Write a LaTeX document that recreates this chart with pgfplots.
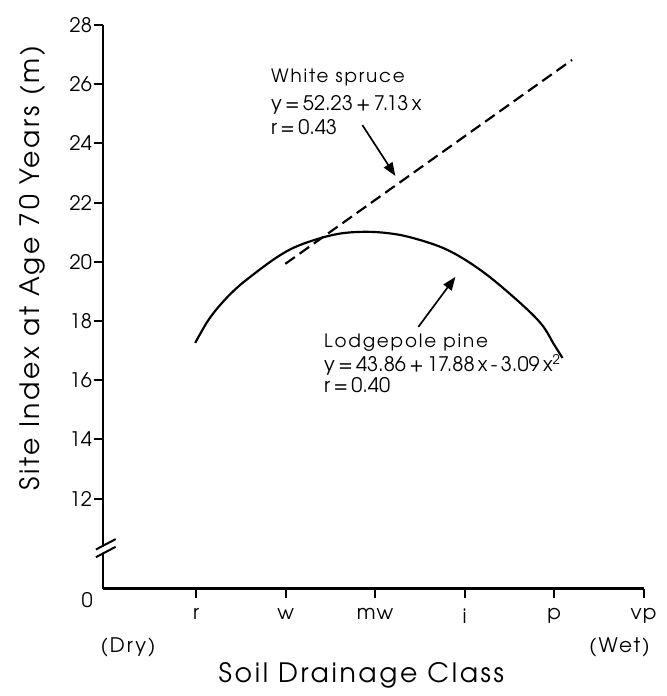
\documentclass[border=0pt]{standalone}
\usepackage{fontspec}
\setmainfont{TeX Gyre Adventor}
\usepackage{pgfplots}
\pgfplotsset{compat=1.18}
\usetikzlibrary{arrows.meta}

% lodgepole pine curve (x: 1=r ... 6=vp)
\pgfplotstableread{
x      y
0.989  17.26
1.130  18.00
1.268  18.54
1.430  19.05
1.604  19.49
1.906  20.16
2.163  20.57
2.532  20.91
2.834  21.01
3.136  20.97
3.427  20.80
3.808  20.40
4.177  19.72
4.546  18.81
4.848  17.93
5.000  17.20
5.094  16.75
}\lodgepole

\pgfplotstableread{
x      y
1.996  19.93
5.200  26.82
}\spruce

\newcommand{\fs}[1]{\fontsize{#1}{#1}\selectfont}
\newcommand{\ls}[1]{\addfontfeatures{LetterSpace=#1}}

\begin{document}
\begin{tikzpicture}
\begin{axis}[
  width=324pt, height=337.8pt, scale only axis,
  xmin=-0.040, xmax=6, ymin=8.96, ymax=28,
  axis lines=left,
  axis line style={line width=1.5pt, -},
  xtick={1,2,3,4,5,6},
  xticklabels={r,w,mw,i,p,vp},
  ytick={12,14,16,18,20,22,24,26,28},
  yticklabels={12,14,16,18,20,22,24,26,28},
  tick align=outside,
  major tick length=5.5pt,
  tick style={line width=1.2pt, black},
  yticklabel style={font=\fs{12}, inner sep=1pt},
  xticklabel style={font=\fs{12}\ls{6}, yshift=-3pt},
  clip=false,
]
% fixed bounding box with the reference's proportions
\path (axis cs:-1.192,5.33) rectangle (axis cs:6.257,28.845);

\addplot[black, line width=1.3pt, smooth, tension=0.6] table[x=x, y=y] {\lodgepole};
\addplot[black, line width=1.3pt, dash pattern=on 7pt off 3.5pt] table[x=x, y=y] {\spruce};

% axis break
\fill[white] (axis cs:-0.12,10.05) -- (axis cs:0.10,10.40) -- (axis cs:0.10,10.60) -- (axis cs:-0.12,10.25) -- cycle;
\draw[line width=1.2pt] (axis cs:-0.12,10.02) -- (axis cs:0.10,10.37);
\draw[line width=1.2pt] (axis cs:-0.12,10.28) -- (axis cs:0.10,10.63);
\node[font=\fs{12}] at (axis cs:-0.219,8.57) {0};

% annotations
\node[anchor=west, font=\fs{11}\ls{10}] at (axis cs:1.772,26.24) {White spruce};
\node[anchor=west, font=\fs{12}] at (axis cs:1.772,25.30) {y\,=\,52.23\,+\,7.13\,x};
\node[anchor=west, font=\fs{12}] at (axis cs:1.772,24.55) {r\,=\,0.43};
\draw[line width=1pt, -{Triangle[length=8pt, width=6pt]}] (axis cs:2.857,24.62) -- (axis cs:3.226,22.90);

\node[anchor=west, font=\fs{11}\ls{10}] at (axis cs:2.365,17.26) {Lodgepole pine};
\node[anchor=west, font=\fs{12}] at (axis cs:2.365,16.51) {y\,=\,43.86\,+\,17.88\,x\,-\,3.09\,x\textsuperscript{2}};
\node[anchor=west, font=\fs{12}] at (axis cs:2.365,15.84) {r\,=\,0.40};
\draw[line width=1pt, -{Triangle[length=8pt, width=6pt]}] (axis cs:3.483,17.80) -- (axis cs:3.897,19.49);

% axis titles
\node[font=\fs{16}\ls{10}, rotate=90] at (axis cs:-0.834,19.79) {Site Index at Age 70 Years (m)};
\node[font=\fs{12}\ls{10}] at (axis cs:0.239,6.99) {(Dry)};
\node[font=\fs{12}\ls{10}] at (axis cs:5.73,6.99) {(Wet)};
\node[font=\fs{16}\ls{10}] at (axis cs:2.846,6.04) {Soil Drainage Class};
\end{axis}
\end{tikzpicture}
\end{document}
